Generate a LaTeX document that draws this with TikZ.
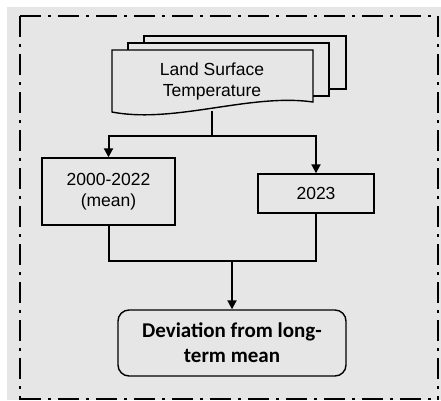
\documentclass[tikz,border=0pt]{standalone}
\usepackage{fontspec}
\setmainfont{Liberation Sans}
\newfontfamily\calib{Carlito}
\usetikzlibrary{arrows.meta}
\definecolor{bggray}{RGB}{230,230,230}
\tikzset{
  boxstyle/.style={draw=black, line width=1.4pt, fill=bggray, align=center, inner sep=0pt,
    font=\fontsize{17.5}{21}\selectfont},
  flow/.style={line width=2pt, -{Triangle[length=9pt,width=9pt]}},
  flowplain/.style={line width=2pt},
  layer/.style={draw=black, line width=1.4pt, fill=bggray},
  frame/.style={line width=2pt, dash pattern=on 21pt off 7pt on 3pt off 7pt}
}
\begin{document}
\begin{tikzpicture}[x=1pt,y=-1pt]
\useasboundingbox (0,0) rectangle (441,400);
\fill[white] (0,0) rectangle (441,400);
\fill[bggray] (7,7) rectangle (441,400);
\draw[frame] (20,16) -- (438,16);
\draw[frame] (20,16) -- (20,400);
\draw[frame] (438,16) -- (438,400);
\draw[frame] (20,399) -- (438,399);
% document stack
\draw[layer] (144,36) rectangle (346,89);
\draw[layer] (128,43) rectangle (329,96);
\draw[layer] (112,50) -- (313,50) -- (313,102) .. controls (250,93) and (175,124) .. (112,112) -- cycle;
\node[align=center, inner sep=0pt, font=\fontsize{17.5}{21}\selectfont] (lst) at (212,81) {Land Surface\\Temperature};
\coordinate (docb) at (212,111);
\coordinate (split) at (212,136);
% boxes
\node[boxstyle, minimum width=133pt, minimum height=67pt] (mean) at (108.5,191.5) {2000-2022\\(mean)};
\node[boxstyle, minimum width=116pt, minimum height=39pt] (yr) at (316,193.5) {2023};
\node[boxstyle, rounded corners=11pt, minimum width=228pt, minimum height=66pt,
  font=\calib\bfseries\fontsize{21}{25}\selectfont] (dev) at (232,343) {Deviation from long-\\term mean};
\coordinate (join) at (232,261);
% connectors
\draw[flowplain] (docb) -- (split);
\draw[flow] (split) -| (mean.north);
\draw[flow] (split) -| (yr.north);
\draw[flowplain] (mean.south) |- (join) -| (yr.south);
\draw[flow] (join) -- (dev.north);
\end{tikzpicture}
\end{document}
